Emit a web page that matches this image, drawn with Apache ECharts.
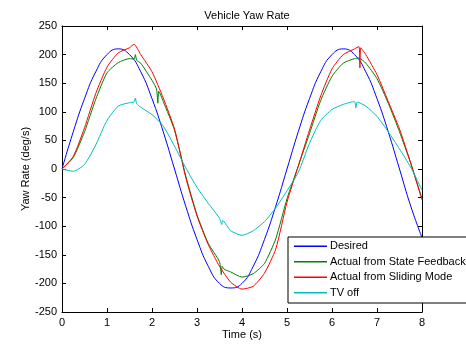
<!DOCTYPE html>
<html>
<head>
<meta charset="utf-8">
<script src="https://cdn.jsdelivr.net/npm/echarts@6/dist/echarts.min.js"></script>
<style>
  html, body { margin: 0; padding: 0; background: #fff; }
  #chart { width: 466px; height: 350px; }
</style>
</head>
<body>
<div id="chart"></div>
<script>
// values
const desiredT = [0, 0.25, 0.5, 0.75, 1, 1.25, 1.5, 1.75, 2, 2.25, 2.5, 2.75, 3, 3.25, 3.5, 3.75, 4, 4.25, 4.5, 4.75, 5, 5.25, 5.5, 5.75, 6, 6.25, 6.5, 6.75, 7, 7.25, 7.5, 7.75, 8]
const desiredV = [0, 65, 123, 170, 200, 210, 200, 170, 123, 65, 0, -65, -123, -170, -200, -208, -200, -170, -123, -65, 0, 65, 123, 170, 200, 210, 200, 170, 123, 65, 0, -65, -120]

const stateT = [0, 0.25, 0.5, 0.75, 1, 1.25, 1.5, 1.6, 1.63, 1.66, 1.75, 2, 2.1, 2.13, 2.15, 2.25, 2.5, 2.75, 3, 3.25, 3.5, 3.54, 3.56, 3.6, 3.75, 4, 4.25, 4.5, 4.75, 5, 5.25, 5.5, 5.75, 6, 6.25, 6.5, 6.6, 6.75, 7, 7.25, 7.5, 7.75, 8]
const stateV = [0, 20, 65, 122, 168, 186, 193, 192, 200, 190, 185, 155, 140, 115, 136, 118, 68, -12, -80, -130, -162, -185, -170, -175, -180, -189, -183, -165, -122, -52, 5, 62, 120, 162, 185, 193, 194, 185, 158, 115, 65, 10, -52]

const slidingT = [0, 0.25, 0.5, 0.75, 1, 1.25, 1.5, 1.6, 1.75, 2, 2.25, 2.5, 2.75, 3, 3.25, 3.5, 3.75, 4, 4.25, 4.5, 4.75, 5, 5.25, 5.5, 5.75, 6, 6.25, 6.5, 6.6, 6.62, 6.64, 6.75, 7, 7.25, 7.5, 7.75, 8]
const slidingV = [0, 22, 72, 132, 178, 203, 212, 218, 200, 170, 124, 70, -15, -82, -132, -170, -198, -210, -205, -182, -140, -58, 5, 68, 128, 175, 200, 210, 214, 177, 212, 200, 165, 118, 70, 10, -54]

const tvOffT = [0, 0.25, 0.5, 0.75, 1, 1.25, 1.5, 1.6, 1.63, 1.66, 1.75, 2, 2.25, 2.5, 2.75, 3, 3.25, 3.5, 3.55, 3.57, 3.75, 4, 4.25, 4.5, 4.75, 5, 5.25, 5.5, 5.75, 6, 6.25, 6.5, 6.53, 6.56, 6.75, 7, 7.25, 7.5, 7.75, 8]
const tvOffV = [0, -4, 8, 42, 85, 110, 116, 117, 124, 114, 108, 95, 75, 40, 2, -32, -60, -86, -97, -90, -108, -116, -108, -92, -68, -38, -6, 45, 85, 104, 113, 118, 107, 117, 110, 92, 65, 35, 3, -37]

const seriesNames = ['Desired', 'Actual from State Feedback', 'Actual from Sliding Mode', 'TV off']
const seriesColors = ['#0000ff', '#008000', '#ff0000', '#00bfbf']
const seriesData = [
  desiredT.map((t, i) => [t, desiredV[i]]),
  stateT.map((t, i) => [t, stateV[i]]),
  slidingT.map((t, i) => [t, slidingV[i]]),
  tvOffT.map((t, i) => [t, tvOffV[i]]),
]

const font = 'Liberation Sans, Arial, sans-serif'
const axisBase = {
  axisLine: { show: true, onZero: false, lineStyle: { color: '#000', width: 1 } },
  axisTick: { show: true, inside: true, length: 4, lineStyle: { color: '#000' } },
  splitLine: { show: false },
}

const chart = echarts.init(document.getElementById('chart'))
chart.setOption({
  animation: false,
  backgroundColor: '#fff',
  textStyle: { fontFamily: font },
  title: {
    text: 'Vehicle Yaw Rate',
    left: 242,
    top: 5,
    textAlign: 'center',
    textStyle: { fontSize: 11, fontWeight: 'normal', color: '#000', fontFamily: font },
  },
  grid: { left: 62, right: 44, top: 26, bottom: 38 },
  legend: {
    data: seriesNames,
    orient: 'vertical',
    left: 288,
    top: 237,
    icon: 'rect',
    itemWidth: 33,
    itemHeight: 1.5,
    itemGap: 3,
    padding: [3, 20, 4, 6],
    backgroundColor: '#fff',
    borderColor: '#000',
    borderWidth: 1,
    borderRadius: 0,
    textStyle: { fontSize: 11, color: '#000', fontFamily: font, lineHeight: 12.5, padding: [0, 0, 0, -2] },
  },
  xAxis: [
    {
      ...axisBase,
      type: 'value',
      min: 0, max: 8, interval: 1,
      name: 'Time (s)',
      nameLocation: 'middle',
      nameGap: 17,
      nameMoveOverlap: false,
      nameTextStyle: { fontSize: 11, color: '#000', fontFamily: font },
      axisLabel: { fontSize: 11, color: '#000', margin: 5, fontFamily: font },
    },
    {
      ...axisBase,
      type: 'value',
      position: 'top',
      min: 0, max: 8, interval: 1,
      axisLabel: { show: false },
    },
  ],
  yAxis: [
    {
      ...axisBase,
      type: 'value',
      min: -250, max: 250, interval: 50,
      name: 'Yaw Rate (deg/s)',
      nameLocation: 'middle',
      nameGap: 31,
      nameMoveOverlap: false,
      nameTextStyle: { fontSize: 11, color: '#000', fontFamily: font },
      axisLabel: { fontSize: 11, color: '#000', margin: 5, fontFamily: font },
    },
    {
      ...axisBase,
      type: 'value',
      position: 'right',
      min: -250, max: 250, interval: 50,
      axisLabel: { show: false },
    },
  ],
  series: seriesNames.map((name, i) => ({
    name: name,
    type: 'line',
    data: seriesData[i],
    symbol: 'none',
    smooth: i === 0 ? true : 0.2,
    lineStyle: { color: seriesColors[i], width: 1 },
    itemStyle: { color: seriesColors[i] },
  })),
})
</script>
</body>
</html>
